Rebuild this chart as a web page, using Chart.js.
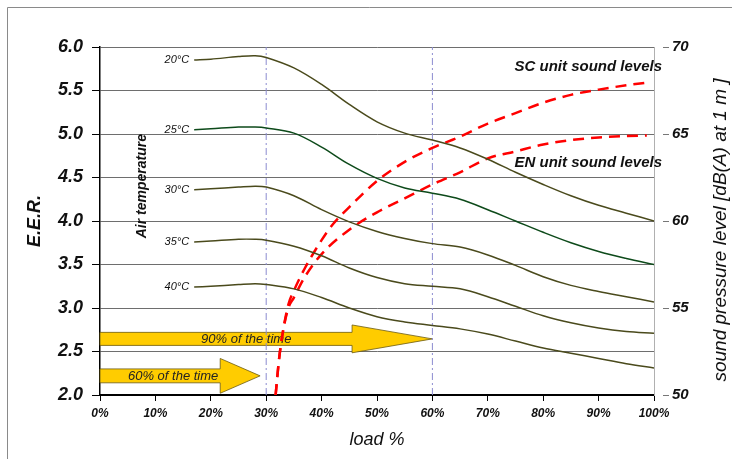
<!DOCTYPE html>
<html>
<head>
<meta charset="utf-8">
<script src="https://cdn.jsdelivr.net/npm/chart.js@4.4.1/dist/chart.umd.min.js"></script>
<style>
  html, body { margin: 0; padding: 0; background: #fff; }
  #wrap { width: 732px; height: 459px; position: relative; }
</style>
</head>
<body>
<div id="wrap"><canvas id="eerChart"></canvas></div>
<script>
// load points (%) shared by the E.E.R. curves
const loadPoints = [17, 20, 25, 28, 30, 35, 40, 45, 50, 55, 60, 65, 70, 75, 80, 85, 90, 95, 100];

// E.E.R. per air temperature
const temperatures = ["20°C", "25°C", "30°C", "35°C", "40°C"];
const eer20 = [5.85, 5.86, 5.89, 5.90, 5.88, 5.76, 5.57, 5.34, 5.14, 5.01, 4.93, 4.84, 4.71, 4.56, 4.42, 4.29, 4.18, 4.09, 4.00];
const eer25 = [5.05, 5.06, 5.08, 5.08, 5.07, 5.01, 4.85, 4.65, 4.49, 4.38, 4.32, 4.25, 4.13, 4.00, 3.87, 3.75, 3.65, 3.57, 3.50];
const eer30 = [4.36, 4.37, 4.39, 4.40, 4.39, 4.29, 4.13, 3.99, 3.88, 3.80, 3.74, 3.70, 3.61, 3.49, 3.36, 3.26, 3.19, 3.13, 3.07];
const eer35 = [3.76, 3.77, 3.79, 3.79, 3.78, 3.71, 3.60, 3.46, 3.35, 3.28, 3.25, 3.22, 3.13, 3.02, 2.91, 2.83, 2.77, 2.73, 2.71];
const eer40 = [3.24, 3.25, 3.27, 3.28, 3.27, 3.22, 3.12, 3.00, 2.90, 2.84, 2.80, 2.76, 2.70, 2.62, 2.54, 2.48, 2.42, 2.36, 2.31];

// sound pressure levels dB(A) at 1 m
const scLoads = [31.7, 32.3, 33, 34, 35, 37, 40, 42, 45, 50, 55, 60, 65, 70, 75, 80, 85, 90, 95, 98.7];
const scLevels = [50, 52, 53.6, 55.2, 56.0, 57.3, 58.9, 59.8, 60.8, 62.3, 63.4, 64.2, 64.85, 65.6, 66.2, 66.8, 67.25, 67.55, 67.8, 67.95];
const enLoads = [31.7, 32.3, 33, 34, 35, 37, 40, 45, 50, 55, 60, 65, 70, 75, 80, 85, 90, 95, 98.7];
const enLevels = [50, 52, 53.6, 55.0, 55.6, 56.8, 58.1, 59.5, 60.5, 61.3, 62.1, 62.8, 63.6, 64.0, 64.4, 64.65, 64.8, 64.88, 64.92];

// vertical reference loads
const markerLoads = [30, 60];

// time-share arrows: body end, tip (load %), centre (E.E.R.)
const arrowLabels = ["90% of the time", "60% of the time"];
const arrowBodyEnd = [45.5, 21.7];
const arrowTip = [60, 28.9];
const arrowCenter = [2.645, 2.22];
const arrowBodyHalf = [0.075, 0.08];
const arrowHeadHalf = [0.16, 0.2];
const arrowTextAt = [26.4, 13.2];

const FONT = "'Liberation Sans', Arial, sans-serif";
const eerSeries = [eer20, eer25, eer30, eer35, eer40];
const curveColors = ["#4a4a1c", "#0d4a1a", "#4a4a1c", "#4a4a1c", "#4a4a1c"];

const toXY = (xs, ys) => xs.map((x, i) => ({ x: x, y: ys[i] }));

const datasets = [];
temperatures.forEach((t, i) => {
  datasets.push({
    label: t,
    isTemp: true,
    data: toXY(loadPoints, eerSeries[i]),
    borderColor: curveColors[i],
    borderWidth: 1.5,
    pointRadius: 0,
    tension: 0.35,
    yAxisID: "y",
  });
});
datasets.push({
  label: "SC unit sound levels",
  data: toXY(scLoads, scLevels),
  borderColor: "#ff0000",
  borderWidth: 2.5,
  borderDash: [11, 7],
  pointRadius: 0,
  cubicInterpolationMode: "monotone",
  yAxisID: "yR",
});
datasets.push({
  label: "EN unit sound levels",
  data: toXY(enLoads, enLevels),
  borderColor: "#ff0000",
  borderWidth: 2.5,
  borderDash: [11, 7],
  pointRadius: 0,
  cubicInterpolationMode: "monotone",
  yAxisID: "yR",
});
markerLoads.forEach((m) => {
  datasets.push({
    label: "marker " + m,
    data: [{ x: m, y: 2 }, { x: m, y: 6 }],
    borderColor: "#8c8cd0",
    borderWidth: 1,
    borderDash: [7, 3, 2, 3],
    pointRadius: 0,
    yAxisID: "y",
  });
});

// arrows, frame and free text
const decorations = {
  id: "decorations",
  beforeDatasetsDraw(chart) {
    const { ctx, scales } = chart;
    const xs = scales.x, ys = scales.y;
    ctx.save();
    arrowLabels.forEach((lab, i) => {
      const x0 = xs.getPixelForValue(0);
      const xb = xs.getPixelForValue(arrowBodyEnd[i]);
      const xt = xs.getPixelForValue(arrowTip[i]);
      const yc = ys.getPixelForValue(arrowCenter[i]);
      const bt = ys.getPixelForValue(arrowCenter[i] + arrowBodyHalf[i]);
      const bb = ys.getPixelForValue(arrowCenter[i] - arrowBodyHalf[i]);
      const ht = ys.getPixelForValue(arrowCenter[i] + arrowHeadHalf[i]);
      const hb = ys.getPixelForValue(arrowCenter[i] - arrowHeadHalf[i]);
      ctx.beginPath();
      ctx.moveTo(x0, bt);
      ctx.lineTo(xb, bt);
      ctx.lineTo(xb, ht);
      ctx.lineTo(xt, yc);
      ctx.lineTo(xb, hb);
      ctx.lineTo(xb, bb);
      ctx.lineTo(x0, bb);
      ctx.closePath();
      ctx.fillStyle = "#ffcc00";
      ctx.fill();
      ctx.strokeStyle = "#6b5a10";
      ctx.lineWidth = 0.8;
      ctx.stroke();
      ctx.fillStyle = "#222";
      ctx.font = "italic 13px " + FONT;
      ctx.textAlign = "center";
      ctx.textBaseline = "middle";
      ctx.fillText(lab, xs.getPixelForValue(arrowTextAt[i]), yc + 1);
    });
    ctx.restore();
  },
  afterDatasetsDraw(chart) {
    const { ctx, scales } = chart;
    const xs = scales.x, ys = scales.y;
    ctx.save();
    // temperature labels next to the start of each curve
    ctx.font = "italic 11px " + FONT;
    ctx.fillStyle = "#111";
    ctx.textAlign = "right";
    ctx.textBaseline = "middle";
    chart.data.datasets.forEach((ds, i) => {
      if (!ds.isTemp) return;
      const p = chart.getDatasetMeta(i).data[0];
      ctx.fillText(ds.label, p.x - 5, p.y);
    });
    // sound level captions
    ctx.font = "bold italic 15px " + FONT;
    ctx.fillText("SC unit sound levels", xs.right + 8, 67);
    ctx.fillText("EN unit sound levels", xs.right + 8, 163);
    ctx.restore();

    // air temperature caption
    ctx.save();
    ctx.fillStyle = "#111";
    ctx.textAlign = "center";
    ctx.textBaseline = "middle";
    ctx.translate(xs.getPixelForValue(7.6), ys.getPixelForValue(4.4));
    ctx.rotate(-Math.PI / 2);
    ctx.font = "bold italic 14px " + FONT;
    ctx.fillText("Air temperature", 0, 0);
    ctx.restore();

    // right axis title, reading upwards
    ctx.save();
    ctx.fillStyle = "#111";
    ctx.textAlign = "center";
    ctx.textBaseline = "middle";
    ctx.translate(chart.width - 11, (chart.chartArea.top + chart.chartArea.bottom) / 2 + 9);
    ctx.rotate(-Math.PI / 2);
    ctx.font = "italic 19px " + FONT;
    ctx.fillText("sound pressure level [dB(A) at 1 m ]", 0, 0);
    ctx.restore();

    // outer frame
    ctx.save();
    ctx.strokeStyle = "#8a8a8a";
    ctx.lineWidth = 1;
    ctx.beginPath();
    ctx.moveTo(7.5, chart.height);
    ctx.lineTo(7.5, 7.5);
    ctx.lineTo(chart.width, 7.5);
    ctx.stroke();
    ctx.restore();
  },
};

new Chart(document.getElementById("eerChart"), {
  type: "line",
  data: { datasets: datasets },
  options: {
    responsive: true,
    maintainAspectRatio: false,
    animation: false,
    layout: { padding: { top: 47, left: 0, right: 0, bottom: 0 } },
    plugins: {
      legend: { display: false },
      tooltip: { enabled: false },
    },
    scales: {
      x: {
        type: "linear",
        min: 0,
        max: 100,
        afterFit: (s) => { s.height = 64; },
        ticks: {
          stepSize: 10,
          padding: 5,
          color: "#111",
          font: { family: FONT, size: 12, style: "italic", weight: "bold" },
          callback: (v) => v + "%",
        },
        grid: { drawOnChartArea: false, tickLength: 6, tickColor: "#000", tickWidth: 1 },
        border: { color: "#000", width: 2 },
        title: {
          display: true,
          text: "load %",
          color: "#111",
          padding: { top: 0, bottom: 8 },
          font: { family: FONT, size: 18, style: "italic" },
        },
      },
      y: {
        position: "left",
        min: 2,
        max: 6,
        afterFit: (s) => { s.width = 100; },
        ticks: {
          stepSize: 0.5,
          padding: 9,
          color: "#111",
          font: { family: FONT, size: 18, style: "italic", weight: "bold" },
          callback: (v) => v.toFixed(1),
        },
        grid: { color: "#6e6e6e", tickLength: 8, tickColor: "#000" },
        border: { color: "#000", width: 1.5 },
        title: {
          display: true,
          text: "E.E.R.",
          color: "#111",
          padding: { top: 24, bottom: 0 },
          font: { family: FONT, size: 18, style: "italic", weight: "bold" },
        },
      },
      yR: {
        position: "right",
        min: 50,
        max: 70,
        afterFit: (s) => { s.width = 78; },
        ticks: {
          stepSize: 5,
          padding: 2,
          color: "#111",
          font: { family: FONT, size: 15, style: "italic", weight: "bold" },
        },
        grid: {
          drawOnChartArea: false,
          tickLength: 16,
          tickColor: "#777",
          tickBorderDash: [0, 8, 6, 40],
        },
        border: { color: "#b0b0b0", width: 1 },
      },
    },
  },
  plugins: [decorations],
});
</script>
</body>
</html>
